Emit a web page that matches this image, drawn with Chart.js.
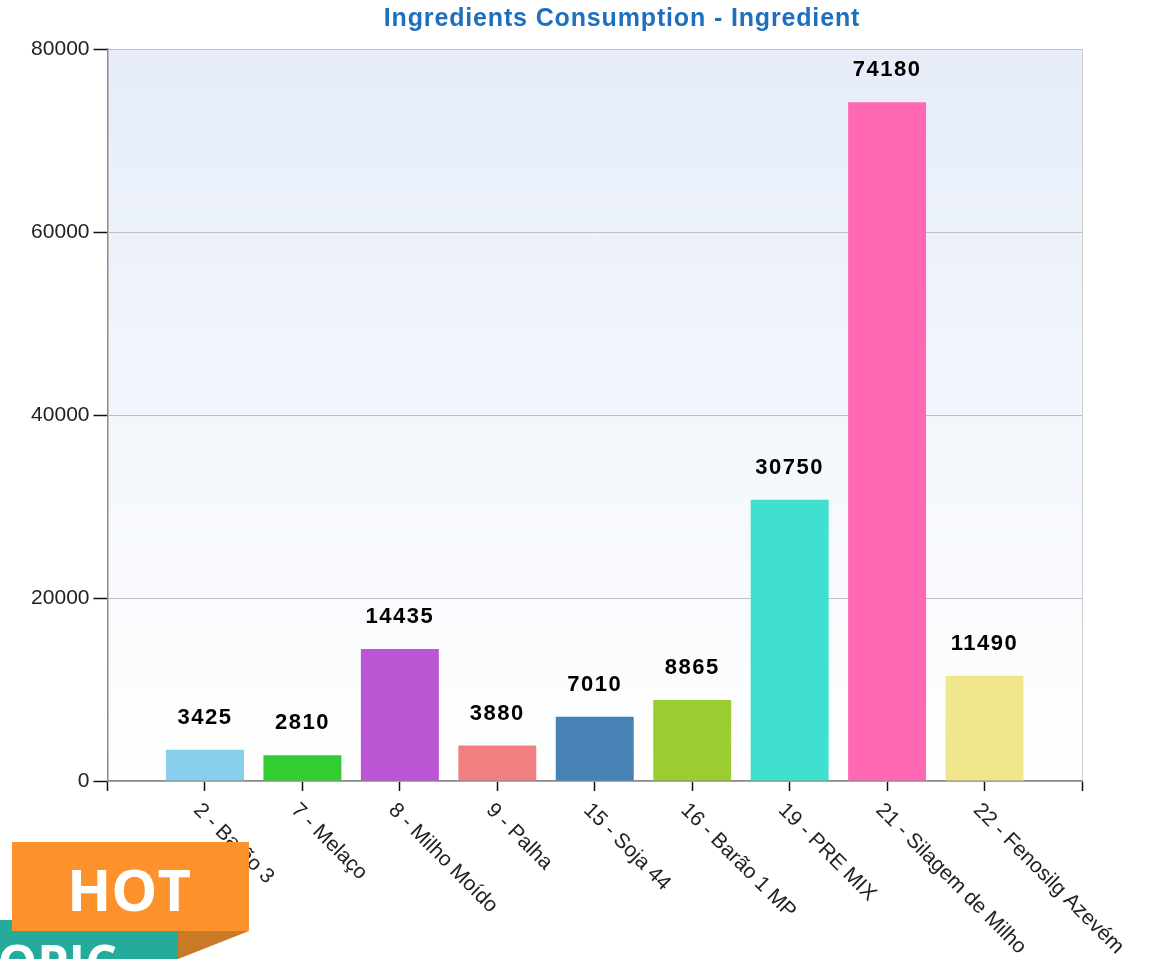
<!DOCTYPE html>
<html>
<head>
<meta charset="utf-8">
<title>Ingredients Consumption - Ingredient</title>
<script src="https://cdn.jsdelivr.net/npm/chart.js@4"></script>
<style>
  html, body { margin: 0; padding: 0; background: #fff; overflow: hidden; }
  #wrap { position: relative; width: 1154px; height: 959px; overflow: hidden; }
  #badge { position: absolute; left: 0; top: 0; width: 1154px; height: 959px; pointer-events: none; }
</style>
</head>
<body>
<div id="wrap">
  <canvas id="ingredients" width="1154" height="959"></canvas>
  <svg id="badge" viewBox="0 0 1154 959">
    <rect x="0" y="920" width="178" height="39" fill="#24ab9c"></rect>
    <text x="117" y="981" text-anchor="end" font-family="Open Sans" font-weight="700" font-size="50" fill="#fff">TOPIC</text>
    <polygon points="178,931 249,931 178,959" fill="#c97a24"></polygon>
    <rect x="12" y="842" width="237" height="89" fill="#fd922d"></rect>
    <text x="129" y="911" text-anchor="middle" font-family="Open Sans" font-weight="700" font-size="58" fill="#fff">HOT</text>
  </svg>
</div>
<script>
const chartTitle = "Ingredients Consumption - Ingredient";
const categories = [
  "",
  "2 - Barão 3",
  "7 - Melaço",
  "8 - Milho Moído",
  "9 - Palha",
  "15 - Soja 44",
  "16 - Barão 1 MP",
  "19 - PRE MIX",
  "21 - Silagem de Milho",
  "22 - Fenosilg Azevém",
  ""
];
const values = [null, 3425, 2810, 14435, 3880, 7010, 8865, 30750, 74180, 11490, null];
const barColors = [
  "#000000",
  "#87ceeb",
  "#32cd32",
  "#ba55d3",
  "#f08080",
  "#4682b4",
  "#9acd32",
  "#40e0d0",
  "#ff69b4",
  "#f0e68c",
  "#000000"
];

// gradient behind the plot, title, value labels and slanted category labels
const extras = {
  id: "extras",
  beforeDraw(chart) {
    const { ctx, chartArea: a } = chart;
    const grad = ctx.createLinearGradient(0, a.top, 0, a.bottom);
    grad.addColorStop(0, "#e6edf8");
    grad.addColorStop(1, "#ffffff");
    ctx.save();
    ctx.fillStyle = grad;
    ctx.fillRect(a.left, a.top, a.right - a.left, a.bottom - a.top);
    ctx.restore();
  },
  afterDraw(chart) {
    const { ctx } = chart;
    const meta = chart.getDatasetMeta(0);
    const xScale = chart.scales.x;
    ctx.save();

    ctx.fillStyle = "#1f6fbf";
    ctx.font = "bold 25px 'Liberation Sans'";
    ctx.letterSpacing = "0.85px";
    ctx.textAlign = "center";
    ctx.textBaseline = "middle";
    ctx.fillText(chartTitle, 622, 19);

    ctx.fillStyle = "#000";
    ctx.font = "bold 22px 'Liberation Sans'";
    ctx.letterSpacing = "1.5px";
    meta.data.forEach((bar, i) => {
      if (values[i] === null) return;
      ctx.fillText(values[i], bar.x, bar.y - 32);
    });

    ctx.fillStyle = "#222";
    ctx.font = "21px 'Liberation Sans'";
    ctx.letterSpacing = "0px";
    ctx.textAlign = "left";
    categories.forEach((label, i) => {
      if (!label) return;
      ctx.save();
      ctx.translate(xScale.getPixelForTick(i) - 8, 807);
      ctx.rotate(Math.PI / 4);
      ctx.fillText(label, 0, 0);
      ctx.restore();
    });
    ctx.restore();
  }
};

new Chart(document.getElementById("ingredients"), {
  type: "bar",
  data: {
    labels: categories,
    datasets: [{
      label: "Ingredient",
      data: values,
      backgroundColor: barColors,
      barPercentage: 0.8,
      categoryPercentage: 1
    }]
  },
  plugins: [extras],
  options: {
    responsive: false,
    animation: false,
    layout: { padding: { left: 0, right: 72, top: 49, bottom: 168 } },
    plugins: {
      legend: { display: false },
      tooltip: { enabled: false }
    },
    scales: {
      x: {
        offset: false,
        afterFit(scale) { scale.height = 10; },
        border: { color: "#8a8a8a", width: 1.5 },
        grid: {
          offset: false,
          color: (c) => c.index === categories.length - 1 ? "#d0d0d0" : "transparent",
          tickColor: "#111",
          tickWidth: 1.5,
          tickLength: 10
        },
        ticks: { display: false, autoSkip: false }
      },
      y: {
        min: 0,
        max: 80000,
        afterFit(scale) { scale.width = 107.5; },
        border: { color: "#8a8a8a", width: 1.5 },
        grid: {
          color: "#bcc0c6",
          tickColor: "#111",
          tickWidth: 1.5,
          tickLength: 14
        },
        ticks: {
          stepSize: 20000,
          color: "#222",
          padding: 4,
          font: { family: "'Liberation Sans'", size: 21 },
          callback: (v) => String(v)
        }
      }
    }
  }
});
</script>
</body>
</html>
